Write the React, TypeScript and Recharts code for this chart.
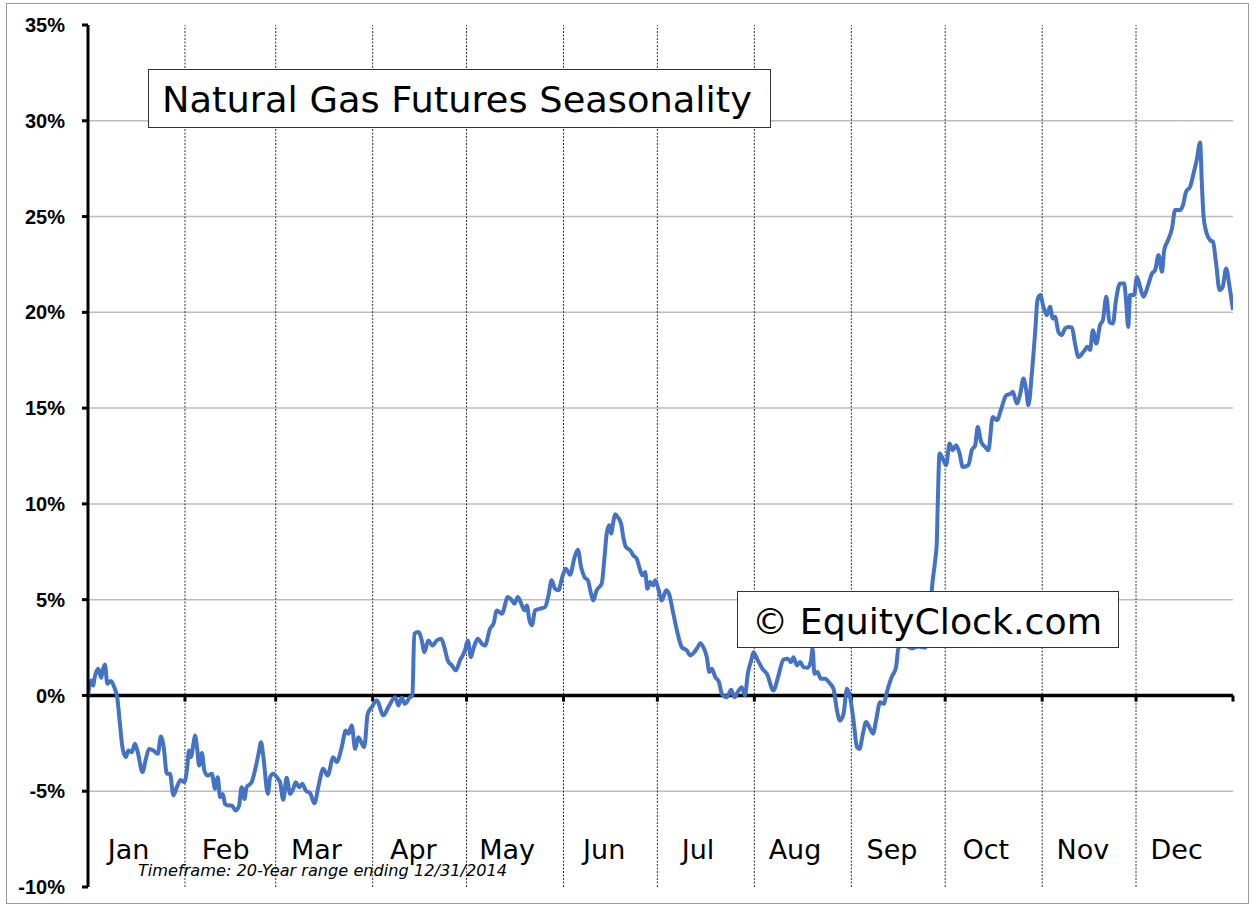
import React from "react";
import {
  LineChart,
  Line,
  XAxis,
  YAxis,
  CartesianGrid,
  ReferenceLine,
} from "recharts";

// month starts on a 366-day calendar axis
const monthNames = ["Jan", "Feb", "Mar", "Apr", "May", "Jun", "Jul", "Aug", "Sep", "Oct", "Nov", "Dec"];
const monthStarts = [0, 31, 60, 91, 121, 152, 182, 213, 244, 274, 305, 335, 366];
const yTicks = [-10, -5, 0, 5, 10, 15, 20, 25, 30, 35];
const gridValues = [-5, 5, 10, 15, 20, 25, 30];

// day of year / average seasonal return (%)
const days = [
  0, 1, 1.7, 2, 3.3, 4.2, 4.6, 5.4, 6.2, 7.3, 8.4, 9.4, 10.2, 11, 12.1, 12.9, 14, 15, 15.9, 17.4,
  18.5, 19.5, 20.9, 22.3, 23.3, 24.2, 25.2, 26.2, 27.3, 28.4, 29.6, 30.8, 31.6, 32.3, 32.9, 33.7,
  34.2, 34.9, 35.5, 36.4, 37.2, 38.3, 39.6, 40.6, 41.5, 42.2, 43.1, 43.8, 44.9, 45.9, 47.2, 48.3,
  49.1, 50, 50.7, 52.3, 53.6, 54.5, 55.3, 56, 57.5, 58.2, 59.2, 60.7, 61.4, 62.4, 63.5, 64.6, 65.6,
  66.4, 67.5, 68.5, 69.6, 71, 72.4, 73.6, 75.2, 76.6, 78.4, 79.5, 81.1, 82.4, 83.2, 84.3, 85.4,
  86.4, 88.3, 89.4, 90.7, 92.3, 94.4, 96, 98.2, 99.2, 100.3, 101.3, 102.9, 103.7, 104.3, 105.6,
  106.7, 107.5, 108.8, 110.1, 111.5, 112.9, 113.9, 115, 116.3, 117.6, 118.9, 120.5, 121.4, 122.4,
  123.2, 124.6, 125.9, 126.9, 128.5, 129.6, 130.7, 132.3, 134.2, 135.5, 136.3, 137.4, 138.7, 139.5,
  140.3, 141, 141.9, 142.9, 144.5, 146.1, 147.2, 148.2, 149.3, 150.4, 151.6, 152.7, 154.1, 155.5,
  156.6, 157.6, 158.7, 159.8, 160.8, 161.5, 162.6, 164.2, 165.1, 165.8, 166.6, 167.2, 167.9, 168.5,
  169.3, 170.4, 171.1, 171.9, 173.3, 174.3, 175.4, 176.2, 177.2, 178.1, 178.8, 179.7, 180.7, 181.3,
  182.3, 183.4, 184.8, 185.7, 187.1, 188.5, 189.8, 191.4, 192.5, 193.8, 194.9, 195.7, 196.7, 197.8,
  198.6, 199.4, 200.5, 201.7, 202.6, 204.2, 205.6, 206.6, 207.9, 209, 210, 210.9, 212, 212.7, 214.1,
  215.6, 217, 219.1, 220.7, 222.3, 223.7, 224.7, 225.5, 226.6, 227.6, 228.7, 230.1, 231.1, 231.6,
  232.2, 233.2, 234.2, 235.6, 237.2, 238.3, 239.4, 240.4, 241.5, 242.6, 243.6, 244.7, 245.8, 246.6,
  247.7, 248.7, 250, 250.9, 251.9, 253.2, 254.3, 255.5, 256.9, 258.3, 259.1, 261.2, 263.4, 265.3,
  267.6, 268.9, 269.7, 270.8, 271.3, 271.6, 272.2, 273.2, 274.3, 275.4, 276.4, 277.5, 278.6, 279.6,
  281.4, 282.5, 283.6, 284.4, 285.5, 286.8, 287.8, 289.2, 290.5, 292.1, 293.5, 295, 295.6, 296.9,
  298, 299, 299.9, 300.6, 301.7, 302.8, 303.5, 304.4, 305.4, 306.5, 307.5, 308.4, 309.1, 310.2,
  311.3, 312.3, 313.4, 314.5, 315.5, 316.6, 318.2, 319.5, 320.3, 321.2, 322.3, 323.5, 324.4, 325.5,
  326.5, 327.6, 328.6, 329.9, 331.2, 331.8, 332.5, 333.1, 334.4, 335.3, 336.3, 337.4, 338.7, 340.1,
  341.1, 342.2, 343.3, 344, 345, 346.5, 347.5, 349.1, 350, 351, 352.3, 353.4, 354.4, 355.5, 356,
  356.6, 357.6, 358.7, 359.6, 360.6, 361.7, 362.7, 363.8, 364.9, 366,
];
const seasonal = [
  0, 0.78, 0.52, 0.82, 1.39, 0.92, 1.22, 1.62, 0.61, 0.75, 0.43, -0.17, -1.48, -2.7, -3.22, -2.87,
  -2.96, -2.52, -2.96, -4.0, -3.31, -2.79, -2.87, -3.05, -2.14, -2.7, -4.09, -4.09, -5.22, -4.79,
  -4.41, -4.53, -3.92, -2.87, -3.22, -2.52, -2.09, -2.79, -3.66, -3.01, -3.92, -4.18, -4.09, -4.87,
  -4.27, -5.31, -5.14, -5.66, -5.75, -5.75, -6.0, -5.75, -4.79, -5.4, -4.79, -4.53, -3.75, -3.05,
  -2.44, -3.13, -5.14, -4.27, -4.09, -4.35, -4.53, -5.45, -4.3, -5.14, -4.87, -4.53, -4.79, -4.61,
  -4.96, -5.1, -5.63, -4.79, -3.83, -4.18, -3.22, -3.48, -2.7, -1.83, -2.0, -1.57, -2.79, -2.18,
  -2.7, -0.96, -0.61, -0.26, -1.04, -0.61, -0.09, -0.52, -0.12, -0.44, -0.09, 0, 3.22, 3.31, 2.87,
  2.26, 2.87, 2.61, 2.87, 2.96, 2.52, 1.83, 1.57, 1.31, 1.83, 2.35, 2.87, 2.0, 2.44, 2.96, 2.7,
  2.61, 3.48, 3.74, 4.44, 4.27, 5.14, 4.96, 4.79, 5.14, 4.7, 4.44, 4.7, 4.0, 3.66, 4.44, 4.53, 4.61,
  5.22, 6.01, 5.57, 5.49, 6.18, 6.62, 6.3, 7.2, 7.61, 6.71, 6.18, 6.01, 5.31, 4.96, 5.49, 5.84,
  7.22, 8.45, 8.88, 8.45, 9.05, 9.46, 9.32, 8.97, 8.27, 7.75, 7.58, 7.31, 7.14, 6.71, 6.27, 6.44,
  5.57, 5.92, 5.75, 6.01, 5.57, 4.96, 5.49, 5.31, 4.27, 3.22, 2.52, 2.35, 2.09, 2.26, 2.52, 2.73,
  2.52, 2.0, 1.22, 1.39, 0.96, 0.7, 0.09, -0.09, 0.3, -0.09, 0.23, 0.43, 0, 1.13, 1.83, 2.26, 1.83,
  1.39, 1.13, 0.26, 1.04, 1.87, 1.92, 1.74, 2.0, 1.57, 1.75, 1.48, 1.45, 1.83, 2.45, 1.13, 1.22,
  0.87, 0.87, 0.61, 0.35, -0.78, -1.31, -0.96, 0.35, -0.09, -1.31, -2.7, -2.79, -2.0, -1.39, -1.74,
  -2.0, -1.31, -0.35, -0.44, 0.26, 0.96, 1.48, 2.52, 2.6, 2.45, 2.55, 2.5, 3.5, 5.49, 7.05, 7.92,
  9.84, 12.63, 12.37, 12.02, 13.15, 12.8, 13.06, 12.63, 11.93, 12.02, 12.8, 13.06, 14.02, 13.23,
  12.97, 12.8, 14.54, 14.37, 15.06, 15.67, 15.76, 15.85, 15.24, 15.76, 16.54, 15.94, 15.15, 16.81,
  19.07, 20.64, 20.9, 20.29, 19.85, 20.29, 19.68, 19.77, 18.98, 18.81, 19.16, 19.24, 19.21, 18.37,
  17.67, 17.94, 18.2, 18.03, 19.07, 18.37, 19.33, 19.59, 20.81, 19.5, 19.42, 20.64, 21.51, 21.51,
  20.64, 19.24, 20.9, 20.9, 21.85, 21.33, 20.81, 21.33, 22.03, 22.2, 22.99, 22.12, 23.25, 23.68,
  24.38, 25.34, 25.34, 25.6, 26.3, 26.56, 27.26, 27.95, 28.86, 26.9, 24.99, 24.12, 23.77, 23.68,
  22.55, 21.16, 21.33, 22.29, 21.33, 20.12,
];

const data = days.map((d, i) => ({ day: d, value: seasonal[i] }));
const labelDays = monthStarts.slice(0, 12).map((s) => s + 13);

const FONT = "'DejaVu Sans', Verdana, sans-serif";

/* eslint-disable @typescript-eslint/no-explicit-any */
const MonthTick = ({ x, y, index }: any) => (
  <text x={x} y={y} dy={-28} textAnchor="middle" fontFamily={FONT} fontSize={27} fill="#000">
    {monthNames[index]}
  </text>
);
/* eslint-enable @typescript-eslint/no-explicit-any */

export default function App() {
  return (
    <div style={{ position: "absolute", left: 0, top: 0, width: 1255, height: 905, background: "#fff" }}>
      <LineChart
        width={1255}
        height={905}
        data={data}
        margin={{ top: 25, right: 22, bottom: 0, left: 0 }}
      >
        <CartesianGrid vertical={false} horizontalValues={gridValues} stroke="#bdbdbd" strokeWidth={1.5} />
        <XAxis
          type="number"
          dataKey="day"
          domain={[0, 366]}
          ticks={labelDays}
          interval={0}
          tick={<MonthTick />}
          axisLine={false}
          tickLine={false}
          tickSize={0}
          tickMargin={0}
          height={18}
          allowDataOverflow
        />
        <YAxis
          type="number"
          domain={[-10, 35]}
          ticks={yTicks}
          interval={0}
          width={88}
          tickFormatter={(v) => `${v}%`}
          tick={{ fontFamily: "'Liberation Sans', Arial, sans-serif", fontSize: 20, fontWeight: 700, fill: "#000" }}
          axisLine={{ stroke: "#000", strokeWidth: 3 }}
          tickLine={{ stroke: "#000", strokeWidth: 3 }}
          tickSize={6}
          tickMargin={17}
          allowDataOverflow
        />
        {monthStarts.slice(1, 12).map((m) => (
          <ReferenceLine key={`g${m}`} x={m} stroke="#333" strokeWidth={1} strokeDasharray="2 1.5" />
        ))}
        <ReferenceLine y={0} stroke="#000" strokeWidth={3.5} />
        {monthStarts.slice(1).map((m) => (
          <ReferenceLine
            key={`t${m}`}
            segment={[{ x: m, y: 0 }, { x: m, y: -0.32 }]}
            stroke="#000"
            strokeWidth={3}
          />
        ))}
        <Line
          type="monotone"
          dataKey="value"
          stroke="#4472C4"
          strokeWidth={4}
          dot={false}
          isAnimationActive={false}
        />
      </LineChart>
      <svg
        width={1255}
        height={905}
        style={{ position: "absolute", left: 0, top: 0, pointerEvents: "none" }}
      >
        <rect x={6.5} y={3.5} width={1242} height={900} fill="none" stroke="#9a9a9a" strokeWidth={1} />
        <rect x={148.5} y={69.5} width={622} height={58} fill="#fff" stroke="#333" strokeWidth={1} />
        <text x={162} y={112} fontFamily={FONT} fontSize={36} fill="#000" textLength={590} lengthAdjust="spacingAndGlyphs">
          Natural Gas Futures Seasonality
        </text>
        <rect x={737.5} y={591.5} width={381} height={56} fill="#fff" stroke="#333" strokeWidth={1} />
        <text x={752} y={634} fontFamily={FONT} fontSize={36} fill="#000" textLength={350} lengthAdjust="spacingAndGlyphs">
          © EquityClock.com
        </text>
        <text x={138} y={876} fontFamily={FONT} fontSize={15} fontStyle="italic" fill="#000" textLength={369} lengthAdjust="spacingAndGlyphs">
          Timeframe: 20-Year range ending 12/31/2014
        </text>
      </svg>
    </div>
  );
}
